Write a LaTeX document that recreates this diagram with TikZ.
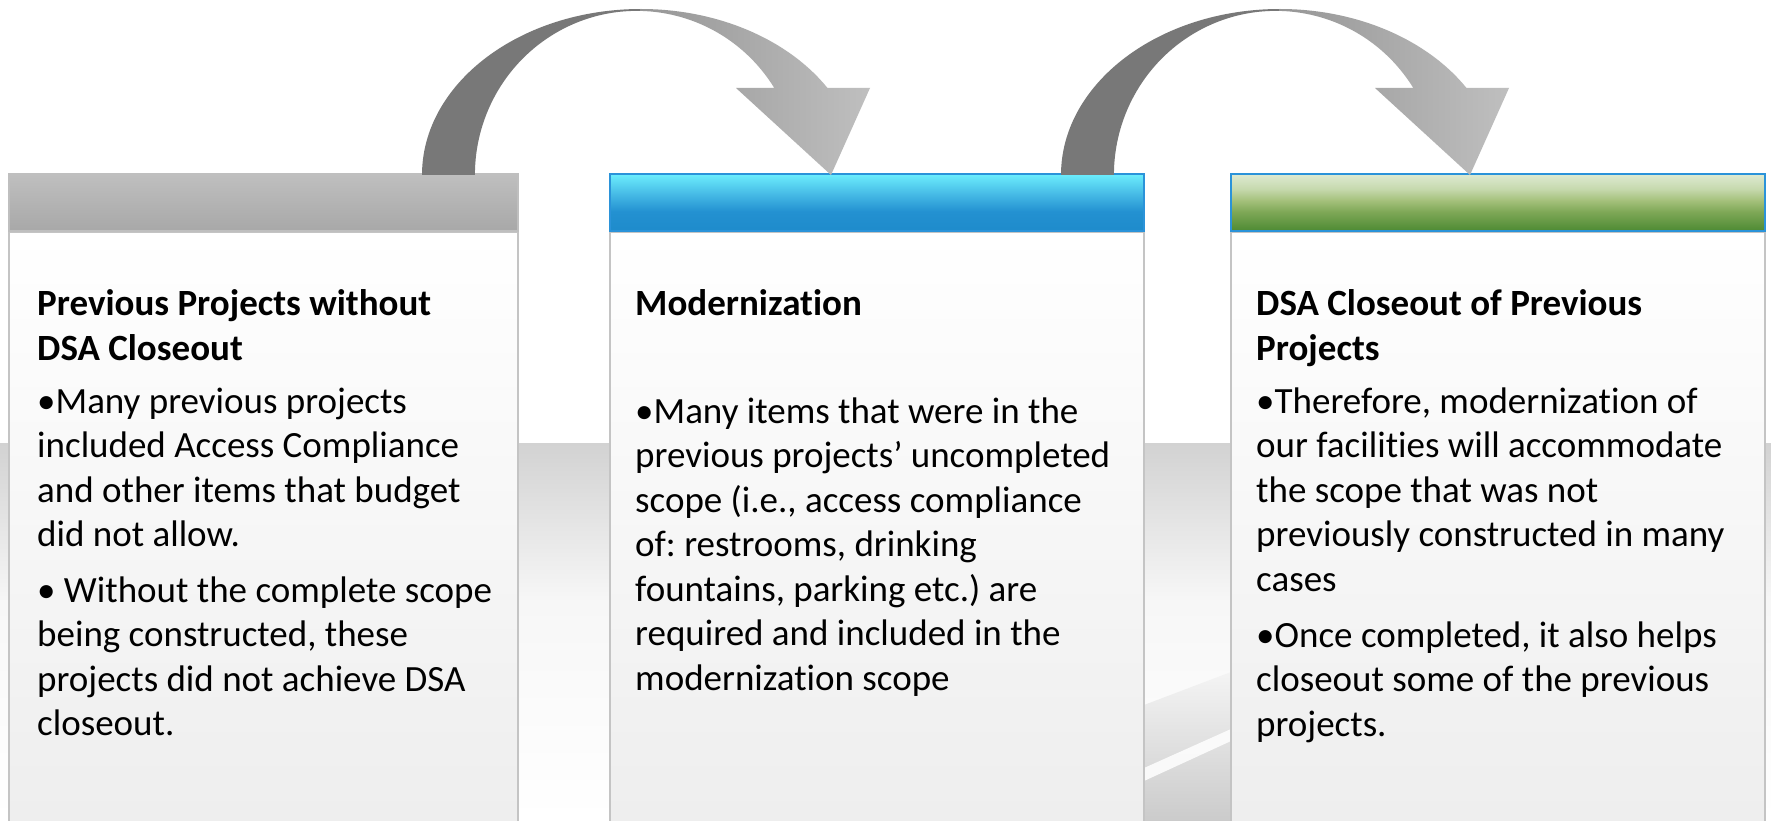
\documentclass[tikz,border=0pt]{standalone}
\usepackage{fontspec}
\setmainfont[Ligatures=NoCommon]{Carlito}
\frenchspacing
\definecolor{hgA}{HTML}{A8A8A8}
\definecolor{hgB}{HTML}{BFBFBF}
\definecolor{bA}{HTML}{1E8BCB}
\definecolor{bB}{HTML}{2391D1}
\definecolor{bC}{HTML}{45B9E5}
\definecolor{bD}{HTML}{6CEEFD}
\definecolor{bline}{HTML}{2B93D9}
\definecolor{gA}{HTML}{4D8A33}
\definecolor{gB}{HTML}{7FA857}
\definecolor{gC}{HTML}{A5C17C}
\definecolor{gD}{HTML}{C6D9AE}
\definecolor{gE}{HTML}{DEEAD2}
\definecolor{bodyA}{HTML}{EDEDED}
\definecolor{bodyline}{HTML}{C4C4C4}
\definecolor{bandA}{HTML}{D2D2D2}
\definecolor{bandB}{HTML}{F7F7F7}
\definecolor{bandC}{HTML}{F4F4F4}
\definecolor{bandD}{HTML}{CBCBCB}
\definecolor{arrdark}{HTML}{787878}
\definecolor{arrmid}{HTML}{969696}
\definecolor{arrlight}{HTML}{C0C0C0}
\pgfdeclareverticalshading{hdrgray}{100bp}{color(0bp)=(hgA); color(25bp)=(hgA); color(75bp)=(hgB); color(100bp)=(hgB)}
\pgfdeclareverticalshading{hdrblue}{100bp}{color(0bp)=(bA); color(25bp)=(bA); color(42bp)=(bB); color(57bp)=(bC); color(75bp)=(bD); color(100bp)=(bD)}
\pgfdeclareverticalshading{hdrgreen}{100bp}{color(0bp)=(gA); color(25bp)=(gA); color(42bp)=(gB); color(52bp)=(gC); color(62bp)=(gD); color(75bp)=(gE); color(100bp)=(gE)}
\pgfdeclareverticalshading{bodysh}{100bp}{color(0bp)=(bodyA); color(25bp)=(bodyA); color(75bp)=(white); color(100bp)=(white)}
\pgfdeclareverticalshading{bandsh}{100bp}{color(0bp)=(white); color(25bp)=(white); color(54bp)=(bandB); color(75bp)=(bandA); color(100bp)=(bandA)}
\newcommand{\DrawCurvedArrow}{%
  \begin{scope}
    \clip (422,175) arc[start angle=180, end angle=328.3, x radius=219, y radius=166]
      -- (870,88) -- (831,175) -- (736,88) -- (774.3,88)
      arc[start angle=328, end angle=180, x radius=162, y radius=164] -- cycle;
    \fill[arrdark] (400,0) rectangle (640,200);
    \shade[left color=arrmid, right color=arrlight] (640,0) rectangle (875,200);
  \end{scope}}
\begin{document}
\begin{tikzpicture}[x=1pt,y=-1pt,
  hdr/.style={anchor=north west, minimum height=57pt, inner sep=0pt, outer sep=0pt, line width=1.5pt, shade},
  bodybox/.style={anchor=north west, minimum height=620pt, inner sep=0pt, outer sep=0pt, draw=bodyline, line width=1.5pt, shade, shading=bodysh},
  txt/.style={anchor=base west, inner sep=0pt, font=\fontsize{37}{44.5}\selectfont},
  head/.style={anchor=base west, inner sep=0pt, font=\bfseries\fontsize{37}{45}\selectfont}]
\useasboundingbox (0,0) rectangle (1771,821);
\fill[white] (0,0) rectangle (1771,821);
% background band
\shade[shading=bandsh] (0,443) rectangle (1771,821);
\begin{scope}
  \clip (1144,443) rectangle (1231,821);
  \shade[top color=bandC, bottom color=bandD] (1144,705) -- (1231,672) -- (1231,821) -- (1144,821) -- cycle;
  \fill[white, opacity=0.85] (1144,768) -- (1231,729) -- (1231,741) -- (1144,781) -- cycle;
\end{scope}
% bodies
\node[bodybox, minimum width=509pt] (b1) at (9,232) {};
\node[bodybox, minimum width=534pt] (b2) at (610,232) {};
\node[bodybox, minimum width=534pt] (b3) at (1231,232) {};
% headers
\node[hdr, minimum width=509pt, shading=hdrgray, draw=hgB] (h1) at (9,174) {};
\node[hdr, minimum width=534pt, shading=hdrblue, draw=bline] (h2) at (610,174) {};
\node[hdr, minimum width=534pt, shading=hdrgreen, draw=bline] (h3) at (1231,174) {};
% curved arrows
\DrawCurvedArrow
\begin{scope}[xshift=639pt]
\DrawCurvedArrow
\end{scope}
% column 1
\node[head] (c1h1) at (37,315) {Previous Projects without};
\node[head] (c1h2) at (37,360.7) {DSA Closeout};
\foreach \s [count=\i] in {{•Many previous projects},{included Access Compliance},{and other items that budget},{did not allow.}}
  \node[txt] (c1a\i) at (37,{413+44.5*(\i-1)}) {\s};
\foreach \s [count=\i] in {{• Without the complete scope},{being constructed, these},{projects did not achieve DSA},{closeout.}}
  \node[txt] (c1b\i) at (37,{602+44.5*(\i-1)}) {\s};
% column 2
\node[head] (c2h1) at (635,315) {Modernization};
\foreach \s [count=\i] in {{•Many items that were in the},{previous projects’ uncompleted},{scope (i.e., access compliance},{of: restrooms, drinking},{fountains, parking etc.) are},{required and included in the},{modernization scope}}
  \node[txt] (c2a\i) at (635,{423+44.5*(\i-1)}) {\s};
% column 3
\node[head] (c3h1) at (1256,315) {DSA Closeout of Previous};
\node[head] (c3h2) at (1256,360.7) {Projects};
\foreach \s [count=\i] in {{•Therefore, modernization of},{our facilities will accommodate},{the scope that was not},{previously constructed in many},{cases}}
  \node[txt] (c3a\i) at (1256,{413+44.5*(\i-1)}) {\s};
\foreach \s [count=\i] in {{•Once completed, it also helps},{closeout some of the previous},{projects.}}
  \node[txt] (c3b\i) at (1256,{647+44.5*(\i-1)}) {\s};
\end{tikzpicture}
\end{document}
